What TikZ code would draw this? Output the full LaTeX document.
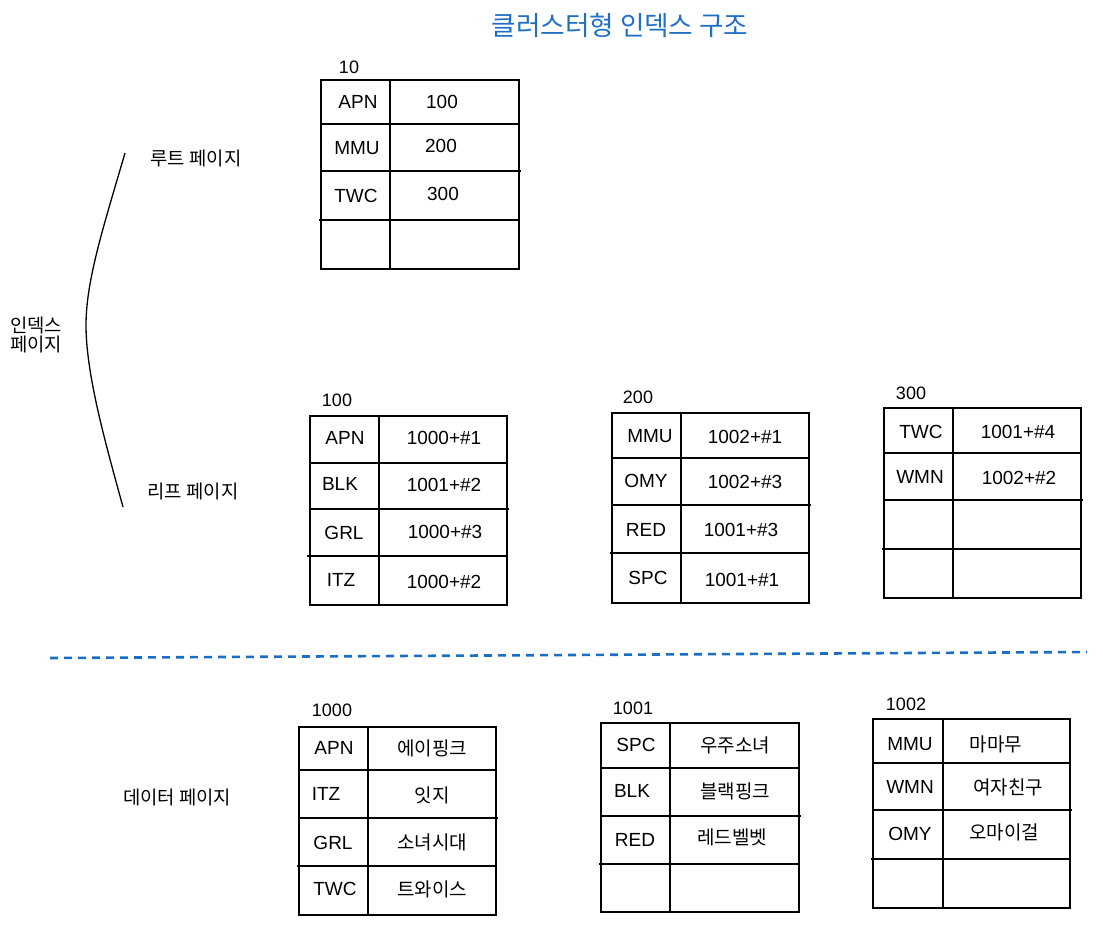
\documentclass[tikz,border=0pt]{standalone}
\usepackage{fontspec}
\setmainfont{Liberation Sans}
\newfontfamily\kr{Noto Sans CJK KR}
\definecolor{titleblue}{HTML}{1F6FC5}
\definecolor{dashblue}{HTML}{1A6FC4}
\begin{document}
\begin{tikzpicture}[x=1pt,y=-1pt,
  grid/.style={line width=1.4pt, black},
  cell/.style={font=\fontsize{19}{19}\selectfont, inner sep=0pt},
  krcell/.style={font=\kr\fontsize{19}{19}\selectfont, inner sep=0pt},
  pagelbl/.style={font=\fontsize{18}{18}\selectfont, inner sep=0pt},
  sidelbl/.style={font=\kr\fontsize{18.8}{18.8}\selectfont, inner sep=0pt},
  title/.style={font=\kr\fontsize{26.6}{26.6}\selectfont, text=titleblue, inner sep=0pt},
  sep/.style={dashblue, line width=2.6pt, dash pattern=on 8pt off 6pt},
  brace/.style={line width=1.3pt, black}]
\useasboundingbox (0,0) rectangle (1103,926);

% title
\node[title] (title) at (620,25) {클러스터형 인덱스 구조};

% side labels
\node[sidelbl] (rootlbl) at (196,158) {루트 페이지};
\node[sidelbl] (leaflbl) at (193,491) {리프 페이지};
\node[sidelbl, align=left] (idxlbl) at (36,335) {인덱스\\[0pt]페이지};
\node[sidelbl] (datalbl) at (177,797) {데이터 페이지};

% bracket curve
\coordinate (bt) at (125,153);
\coordinate (bm) at (86,325);
\coordinate (bb) at (123,507);
\draw[brace] (bt) .. controls (104,225) and (86,280) .. (bm)
             .. controls (86,375) and (106,445) .. (bb);

% separator
\coordinate (sl) at (50,658);
\coordinate (sr) at (1087,652);
\draw[sep] (sl) -- (sr);

% ---------- root page 10
\node[pagelbl] (p10) at (349,67) {10};
\draw[grid] (321,80) rectangle (519,269);
\draw[grid] (390,80) -- (390,269);
\draw[grid] (321,124) -- (519,124);
\draw[grid] (321,171) -- (521,171);
\draw[grid] (319,220) -- (519,220);
\node[cell] (r1k) at (358,102) {APN};  \node[cell] (r1v) at (442,102) {100};
\node[cell] (r2k) at (357,148) {MMU};  \node[cell] (r2v) at (441,146) {200};
\node[cell] (r3k) at (356,196) {TWC};  \node[cell] (r3v) at (443,194) {300};

% ---------- leaf page 100
\node[pagelbl] (p100) at (337,400) {100};
\draw[grid] (310,416) rectangle (507,605);
\draw[grid] (379,416) -- (379,605);
\draw[grid] (310,463) -- (507,463);
\draw[grid] (310,509) -- (509,509);
\draw[grid] (307,556) -- (507,556);
\node[cell] (a1k) at (345,438) {APN};  \node[cell] (a1v) at (444,438) {1000+\#1};
\node[cell] (a2k) at (340,484) {BLK};  \node[cell] (a2v) at (444,485) {1001+\#2};
\node[cell] (a3k) at (344,533) {GRL};  \node[cell] (a3v) at (445,532) {1000+\#3};
\node[cell] (a4k) at (341,580) {ITZ};  \node[cell] (a4v) at (444,582) {1000+\#2};

% ---------- leaf page 200
\node[pagelbl] (p200) at (638,397) {200};
\draw[grid] (612,413) rectangle (809,603);
\draw[grid] (681,413) -- (681,603);
\draw[grid] (612,458) -- (809,458);
\draw[grid] (612,505) -- (811,505);
\draw[grid] (610,553) -- (809,553);
\node[cell] (b1k) at (650,436) {MMU};  \node[cell] (b1v) at (745,437) {1002+\#1};
\node[cell] (b2k) at (646,481) {OMY};  \node[cell] (b2v) at (745,482) {1002+\#3};
\node[cell] (b3k) at (646,530) {RED};  \node[cell] (b3v) at (741,530) {1001+\#3};
\node[cell] (b4k) at (648,578) {SPC};  \node[cell] (b4v) at (742,580) {1001+\#1};

% ---------- leaf page 300
\node[pagelbl] (p300) at (911,393) {300};
\draw[grid] (884,408) rectangle (1081,598);
\draw[grid] (953,408) -- (953,598);
\draw[grid] (884,453) -- (1081,453);
\draw[grid] (884,500) -- (1083,500);
\draw[grid] (882,549) -- (1081,549);
\node[cell] (c1k) at (921,432) {TWC};  \node[cell] (c1v) at (1018,432) {1001+\#4};
\node[cell] (c2k) at (920,477) {WMN};  \node[cell] (c2v) at (1019,478) {1002+\#2};

% ---------- data page 1000
\node[pagelbl] (p1000) at (332,710) {1000};
\draw[grid] (299,727) rectangle (496,915);
\draw[grid] (368,727) -- (368,915);
\draw[grid] (299,770) -- (496,770);
\draw[grid] (299,818) -- (498,818);
\draw[grid] (297,866) -- (496,866);
\node[cell] (d1k) at (334,748) {APN};  \node[krcell] (d1v) at (432,748) {에이핑크};
\node[cell] (d2k) at (326,794) {ITZ};  \node[krcell] (d2v) at (432,795) {잇지};
\node[cell] (d3k) at (333,843) {GRL};  \node[krcell] (d3v) at (432,842) {소녀시대};
\node[cell] (d4k) at (335,889) {TWC};  \node[krcell] (d4v) at (432,889) {트와이스};

% ---------- data page 1001
\node[pagelbl] (p1001) at (633,708) {1001};
\draw[grid] (601,723) rectangle (799,912);
\draw[grid] (670,723) -- (670,912);
\draw[grid] (601,768) -- (799,768);
\draw[grid] (601,816) -- (801,816);
\draw[grid] (599,864) -- (799,864);
\node[cell] (e1k) at (636,745) {SPC};  \node[krcell] (e1v) at (735,745) {우주소녀};
\node[cell] (e2k) at (632,791) {BLK};  \node[krcell] (e2v) at (735,791) {블랙핑크};
\node[cell] (e3k) at (635,840) {RED};  \node[krcell] (e3v) at (732,837) {레드벨벳};

% ---------- data page 1002
\node[pagelbl] (p1002) at (906,704) {1002};
\draw[grid] (873,719) rectangle (1070,908);
\draw[grid] (943,719) -- (943,908);
\draw[grid] (873,763) -- (1070,763);
\draw[grid] (873,810) -- (1072,810);
\draw[grid] (871,859) -- (1070,859);
\node[cell] (f1k) at (910,744) {MMU};  \node[krcell] (f1v) at (996,744) {마마무};
\node[cell] (f2k) at (910,787) {WMN};  \node[krcell] (f2v) at (1008,787) {여자친구};
\node[cell] (f3k) at (910,834) {OMY};  \node[krcell] (f3v) at (1004,832) {오마이걸};
\end{tikzpicture}
\end{document}
